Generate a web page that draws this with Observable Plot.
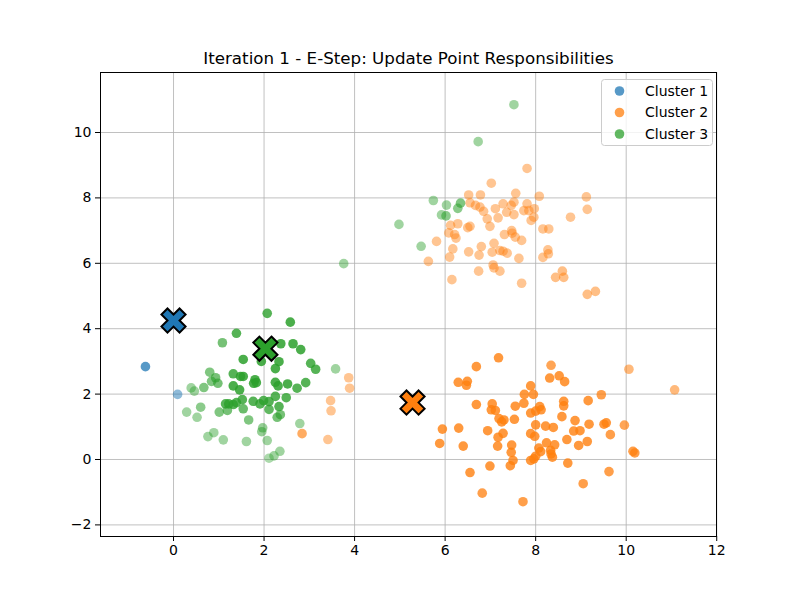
<!DOCTYPE html>
<html><head><meta charset="utf-8">
<script src="https://cdn.jsdelivr.net/npm/d3@7"></script>
<script src="https://cdn.jsdelivr.net/npm/@observablehq/plot@0.6"></script>
<style>body{margin:0;background:#fff}</style>
</head><body><div id="chart"></div>
<script>
const title = "Iteration 1 - E-Step: Update Point Responsibilities";
const clusterNames = ["Cluster 1", "Cluster 2", "Cluster 3"];
const clusterColors = ["#1f77b4", "#ff7f0e", "#2ca02c"];
const xTicks = [0, 2, 4, 6, 8, 10, 12];
const yTicks = [-2, 0, 2, 4, 6, 8, 10];

// [x, y, responsibility-based opacity]
const cluster1 = [[-0.62, 2.84, 0.75], [0.09, 1.99, 0.5]];

const cluster2 = [
  // upper group
  [7.81,8.90,.45],[7.02,8.45,.45],[6.52,8.09,.45],[6.78,8.09,.45],[7.56,8.14,.45],[8.08,8.05,.45],
  [9.12,8.03,.45],[9.14,7.65,.45],[8.77,7.41,.45],[6.55,7.85,.45],[6.67,7.77,.45],[6.77,7.72,.45],
  [6.85,7.59,.45],[7.11,7.67,.45],[7.28,7.82,.45],[7.46,7.77,.45],[7.52,7.87,.45],[7.81,7.82,.45],
  [7.97,7.67,.45],[7.74,7.61,.45],[7.85,7.61,.45],[7.36,7.56,.45],[7.52,7.49,.45],[7.96,7.41,.45],
  [7.90,7.31,.45],[6.93,7.36,.45],[7.17,7.39,.45],[6.12,7.16,.45],[6.28,7.21,.45],[6.55,7.13,.45],
  [6.50,7.09,.45],[6.99,7.13,.45],[7.47,7.00,.45],[8.16,7.05,.45],[8.29,7.05,.45],[6.08,6.93,.45],
  [6.21,6.88,.45],[6.24,6.77,.45],[5.81,6.67,.45],[7.31,6.88,.45],[7.48,6.92,.45],[7.55,6.80,.45],
  [7.69,6.70,.45],[6.80,6.51,.45],[7.08,6.61,.45],[6.17,6.44,.45],[6.52,6.35,.45],[6.75,6.25,.45],
  [7.04,6.34,.45],[7.21,6.39,.45],[7.28,6.37,.45],[7.37,6.31,.45],[6.10,6.19,.45],[7.63,6.15,.45],
  [8.27,6.41,.45],[8.28,6.29,.45],[8.16,6.18,.45],[5.63,6.06,.45],[7.06,5.95,.45],[7.08,5.86,.45],
  [7.21,5.76,.45],[6.74,5.76,.45],[6.15,5.50,.45],[7.69,5.39,.45],[8.59,5.76,.5],[8.44,5.57,.5],
  [8.62,5.57,.5],[9.14,5.05,.5],[9.32,5.14,.5],
  // left stragglers
  [3.87,2.50,.45],[3.89,2.18,.45],[3.47,1.80,.45],[3.48,1.49,.45],[2.84,0.79,.65],[3.41,0.61,.45],
  // lower group
  [7.18,3.11,.8],[6.69,2.84,.8],[8.34,2.88,.7],[8.31,2.49,.8],[8.52,2.56,.8],[8.64,2.38,.8],
  [10.06,2.76,.55],[6.29,2.36,.8],[6.49,2.39,.8],[6.47,2.27,.8],[7.89,2.25,.8],[7.75,1.99,.8],
  [7.95,1.99,.8],[7.74,1.72,.8],[7.55,1.63,.8],[6.69,1.68,.8],[7.04,1.70,.8],[7.02,1.52,.8],
  [7.11,1.50,.8],[7.89,1.42,.8],[8.09,1.62,.8],[8.12,1.52,.8],[8.00,1.48,.8],[8.62,1.78,.8],
  [8.62,1.64,.8],[9.16,1.80,.8],[9.45,1.98,.75],[11.07,2.13,.55],[7.53,1.23,.8],[7.19,1.25,.8],
  [7.30,1.21,.8],[7.25,1.15,.8],[8.58,1.31,.8],[8.87,1.19,.8],[5.94,0.93,.8],[6.30,0.96,.8],
  [6.94,0.88,.8],[7.28,0.80,.8],[7.17,0.68,.8],[8.00,1.06,.8],[8.22,1.02,.8],[8.39,0.98,.8],
  [7.89,0.79,.8],[7.98,0.71,.8],[8.84,0.87,.8],[8.98,0.88,.8],[9.18,1.08,.8],[9.51,1.08,.8],
  [9.56,1.12,.8],[9.96,1.05,.7],[9.65,0.76,.75],[8.69,0.61,.8],[9.14,0.55,.8],[8.95,0.43,.8],
  [5.88,0.49,.8],[6.40,0.41,.8],[7.16,0.41,.8],[7.47,0.44,.8],[7.46,0.22,.8],[8.24,0.51,.8],
  [8.42,0.45,.8],[8.07,0.35,.8],[8.11,0.24,.8],[8.33,0.28,.8],[8.34,0.17,.8],[8.37,0.07,.8],
  [8.00,0.10,.8],[7.96,0.02,.8],[7.89,-0.03,.8],[7.50,-0.03,.8],[7.44,-0.19,.8],[6.99,-0.20,.8],
  [8.71,-0.11,.8],[10.15,0.25,.75],[10.19,0.20,.75],[6.55,-0.40,.8],[9.62,-0.37,.75],[9.05,-0.74,.75],
  [6.82,-1.03,.75],[7.72,-1.29,.75]
];

const cluster3 = [
  [2.07,4.47,.8],[2.58,4.20,.85],[1.39,3.86,.8],[1.08,3.57,.65],[2.37,3.54,.85],[2.64,3.54,.85],
  [2.81,3.36,.85],[1.54,3.06,.85],[2.33,2.99,.85],[2.25,2.78,.85],[1.94,3.00,.85],[3.03,2.94,.8],
  [3.14,2.76,.8],[3.58,2.77,.45],[0.80,2.67,.6],[0.93,2.50,.65],[0.98,2.33,.65],[0.84,2.39,.6],
  [1.32,2.62,.8],[1.48,2.54,.85],[1.54,2.54,.85],[1.80,2.44,.85],[1.83,2.35,.85],[1.77,2.33,.85],
  [2.25,2.36,.85],[2.31,2.25,.85],[2.52,2.31,.85],[2.73,2.18,.8],[2.92,2.35,.8],[0.39,2.19,.45],
  [0.46,2.09,.45],[0.67,2.20,.6],[1.32,2.25,.85],[1.46,2.13,.85],[2.25,1.93,.8],[2.49,1.89,.8],
  [1.15,1.70,.8],[1.22,1.70,.8],[1.32,1.68,.8],[1.39,1.74,.8],[1.52,1.83,.8],[1.54,1.55,.7],
  [1.76,1.78,.8],[1.91,1.70,.8],[1.99,1.80,.8],[2.11,1.77,.8],[2.11,1.53,.75],[2.33,1.62,.8],
  [2.36,1.37,.65],[2.29,1.29,.65],[1.01,1.45,.6],[1.19,1.50,.65],[0.60,1.60,.55],[0.29,1.45,.45],
  [0.52,1.29,.45],[1.66,1.21,.6],[2.79,1.10,.45],[1.97,0.97,.5],[1.95,0.85,.5],[0.89,0.82,.45],
  [0.76,0.70,.45],[1.10,0.60,.45],[1.61,0.55,.45],[2.07,0.58,.45],[2.35,0.25,.45],[2.22,0.11,.45],
  [2.11,0.04,.4],
  [7.52,10.85,.45],[6.73,9.72,.45],[5.74,7.92,.45],[6.03,7.78,.45],[6.34,7.84,.6],[6.28,7.68,.55],
  [5.92,7.48,.45],[6.02,7.45,.55],[4.98,7.19,.45],[5.47,6.52,.45],[3.76,5.99,.45]
];

const centroidX = [0.0, 5.28, 2.03];
const centroidY = [4.25, 1.74, 3.39];

const points = [cluster1, cluster2, cluster3].flatMap((arr, k) =>
  arr.map(([x, y, a]) => ({x, y, a, c: clusterColors[k]})));
const centroids = centroidX.map((x, k) => ({x, y: centroidY[k], c: clusterColors[k]}));

const xMarker = {
  draw(context, size) {
    const r = Math.sqrt(size / Math.PI), w = r / 3, L = r, c = Math.SQRT1_2;
    const pts = [[-w,-L],[w,-L],[w,-w],[L,-w],[L,w],[w,w],[w,L],[-w,L],[-w,w],[-L,w],[-L,-w],[-w,-w]];
    pts.forEach(([px, py], i) => {
      const X = (px - py) * c, Y = (px + py) * c;
      i ? context.lineTo(X, Y) : context.moveTo(X, Y);
    });
    context.closePath();
  }
};

const font = "DejaVu Sans, sans-serif";
const svg = Plot.plot({
  width: 800, height: 600,
  marginLeft: 100, marginRight: 84, marginTop: 72, marginBottom: 64,
  style: {fontFamily: font, fontSize: "14px", background: "white", color: "black"},
  x: {domain: [-1.613, 11.995], label: null},
  y: {domain: [-2.355, 11.835], label: null},
  marks: [
    Plot.gridX(xTicks, {stroke: "#b0b0b0", strokeOpacity: 1, strokeWidth: 0.8}),
    Plot.gridY(yTicks, {stroke: "#b0b0b0", strokeOpacity: 1, strokeWidth: 0.8}),
    Plot.dot(points, {x: "x", y: "y", r: 4.8, fill: "c", fillOpacity: "a", stroke: null}),
    Plot.dot(centroids, {x: "x", y: "y", r: 12.8, symbol: xMarker, fill: "c", stroke: "black", strokeWidth: 2}),
    Plot.frame({stroke: "black", strokeWidth: 1}),
    Plot.axisX(xTicks, {tickSize: 5, tickPadding: 4, fontSize: 14, label: null, tickFormat: d => String(d)}),
    Plot.axisY(yTicks, {tickSize: 5, tickPadding: 4, fontSize: 14, label: null}),
    Plot.text([title], {text: d => d, frameAnchor: "top", lineAnchor: "middle", dy: -14, fontSize: 16.7, fill: "black"})
  ]
});
document.getElementById("chart").append(svg);

// legend
const lg = d3.select(svg).append("g").attr("font-family", font).attr("font-size", 14).attr("text-anchor", "start");
lg.append("rect").attr("x", 601.5).attr("y", 79.5).attr("width", 111).attr("height", 66)
  .attr("rx", 3).attr("fill", "white").attr("fill-opacity", 0.8).attr("stroke", "#cccccc");
clusterNames.forEach((name, i) => {
  const cy = 91 + i * 21.5;
  lg.append("circle").attr("cx", 619.5).attr("cy", cy).attr("r", 4.8)
    .attr("fill", clusterColors[i]).attr("fill-opacity", 0.75);
  lg.append("text").attr("x", 645).attr("y", cy).attr("dy", "0.35em").attr("text-anchor", "start")
    .attr("fill", "black").text(name);
});
</script></body></html>
